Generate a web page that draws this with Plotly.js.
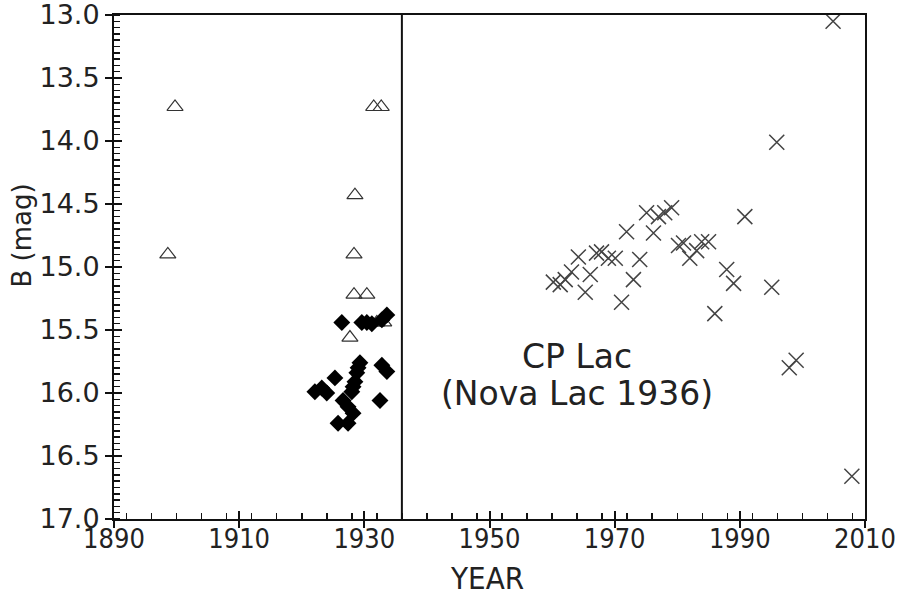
<!DOCTYPE html>
<html>
<head>
<meta charset="utf-8">
<script src="https://cdn.plot.ly/plotly-3.0.1.min.js"></script>
<style>html,body{margin:0;padding:0;background:#fff}#chart{width:899px;height:599px}</style>
</head>
<body>
<div id="chart"></div>
<script>
// Open triangles (early photographic plates)
const triYear = [1899.75, 1898.6, 1931.5, 1932.7, 1928.5, 1928.35, 1928.35, 1930.4, 1927.7, 1932.0, 1933.1];
const triMag  = [13.73, 14.90, 13.73, 13.73, 14.43, 14.90, 15.22, 15.22, 15.56, 15.44, 15.44];

// Filled diamonds (pre-nova)
const diaYear = [1926.4, 1929.6, 1930.4, 1931.2, 1932.8, 1933.6, 1929.3, 1932.8, 1933.6, 1925.3,
                 1928.8, 1928.5, 1928.2, 1928.0, 1922.1, 1923.2, 1924.0, 1926.6, 1927.4, 1928.2,
                 1932.5, 1925.8, 1927.4, 1929.0];
const diaMag  = [15.44, 15.44, 15.44, 15.45, 15.42, 15.38, 15.76, 15.78, 15.83, 15.88,
                 15.84, 15.91, 15.95, 15.99, 15.99, 15.96, 16.00, 16.06, 16.11, 16.16,
                 16.06, 16.24, 16.24, 15.80];

// Crosses (post-nova)
const crsYear = [1960.2, 1961.3, 1962.1, 1963.1, 1964.2, 1965.3, 1966.1, 1967.1, 1967.9, 1969.0,
                 1970.1, 1971.1, 1971.9, 1973.0, 1974.0, 1975.1, 1976.2, 1977.0, 1978.0, 1979.1,
                 1980.2, 1981.0, 1982.0, 1983.1, 1983.9, 1985.0, 1986.0, 1987.9, 1989.0, 1990.8,
                 1995.1, 1995.9, 1997.9, 1999.0, 2004.9, 2007.9];
const crsMag  = [15.12, 15.14, 15.10, 15.04, 14.92, 15.20, 15.06, 14.89, 14.88, 14.93,
                 14.93, 15.28, 14.72, 15.10, 14.94, 14.57, 14.73, 14.60, 14.57, 14.53,
                 14.83, 14.81, 14.93, 14.87, 14.80, 14.80, 15.37, 15.02, 15.13, 14.60,
                 15.16, 14.01, 15.80, 15.74, 13.05, 16.66];

const novaYear = 1936;
const xRange = [1890, 2010];
const yRange = [17, 13];
const labelLines = ["CP Lac", "(Nova Lac 1936)"];
const xTitle = "YEAR";
const yTitle = "B (mag)";

const traces = [
  {x: triYear, y: triMag, type: 'scatter', mode: 'markers',
   marker: {symbol: 'triangle-up-open', size: 14, color: '#333', line: {width: 1.2, color: '#333'}}},
  {x: diaYear, y: diaMag, type: 'scatter', mode: 'markers',
   marker: {symbol: 'diamond', size: 13, color: '#000'}},
  {x: crsYear, y: crsMag, type: 'scatter', mode: 'markers',
   marker: {symbol: 'x-thin-open', size: 15, color: '#444', line: {width: 1.5, color: '#444'}}},
  {x: [], y: [], xaxis: 'x2', yaxis: 'y2', type: 'scatter', mode: 'markers', showlegend: false}
];

const sans = 'DejaVu Sans, Verdana, sans-serif';
const cond = 'DejaVu Sans Condensed, DejaVu Sans, sans-serif';

const layout = {
  width: 899, height: 599,
  margin: {l: 114, r: 34, t: 15, b: 80},
  paper_bgcolor: '#fff', plot_bgcolor: '#fff',
  showlegend: false,
  font: {family: sans, color: '#222'},
  xaxis: {
    range: xRange, dtick: 20, tick0: 1890,
    showgrid: false, zeroline: false,
    showline: true, linecolor: '#111', linewidth: 2, mirror: true,
    ticks: 'outside', ticklen: 7, tickwidth: 2, tickcolor: '#111',
    ticklabelstandoff: -12, ticklabeloverflow: 'allow',
    minor: {dtick: 4, ticks: 'inside', ticklen: 6, tickwidth: 1.5, tickcolor: '#111', showgrid: false},
    tickfont: {family: cond, size: 27, color: '#222'}
  },
  yaxis: {
    range: yRange, dtick: 0.5, tick0: 13, tickformat: '.1f',
    showgrid: false, zeroline: false,
    showline: true, linecolor: '#111', linewidth: 2, mirror: true,
    ticks: 'outside', ticklen: 7, tickwidth: 2, tickcolor: '#111',
    ticklabeloverflow: 'allow',
    minor: {dtick: 0.05, ticks: 'inside', ticklen: 6, tickwidth: 1.5, tickcolor: '#111', showgrid: false},
    tickfont: {family: sans, size: 27, color: '#222'}
  },
  xaxis2: {
    overlaying: 'x', matches: 'x', range: xRange, dtick: 20, tick0: 1890,
    showgrid: false, zeroline: false, showline: false, showticklabels: false,
    ticks: 'inside', ticklen: 8, tickwidth: 2, tickcolor: '#111', side: 'bottom', anchor: 'y2'
  },
  yaxis2: {
    overlaying: 'y', range: yRange, dtick: 0.5, tick0: 13,
    showgrid: false, zeroline: false, showline: false, showticklabels: false,
    ticks: 'inside', ticklen: 8, tickwidth: 2, tickcolor: '#111', side: 'left', anchor: 'x2'
  },
  shapes: [
    {type: 'line', xref: 'x', yref: 'paper', x0: novaYear, x1: novaYear, y0: 0, y1: 1,
     line: {color: '#111', width: 2}}
  ],
  annotations: [
    {xref: 'x', yref: 'y', x: 1964.0, y: 15.71, text: labelLines[0], showarrow: false,
     font: {family: sans, size: 33, color: '#222'}},
    {xref: 'x', yref: 'y', x: 1964.0, y: 16.0, text: labelLines[1], showarrow: false,
     font: {family: sans, size: 33, color: '#222'}},
    {xref: 'paper', yref: 'y', x: -110/751, xanchor: 'left', y: 14.75, text: yTitle, textangle: -90,
     showarrow: false, font: {family: sans, size: 26, color: '#222'}},
    {xref: 'paper', yref: 'paper', x: 0.4967, y: -59/504, yanchor: 'middle', text: xTitle,
     showarrow: false, font: {family: cond, size: 31, color: '#222'}}
  ]
};

Plotly.newPlot('chart', traces, layout, {displayModeBar: false, staticPlot: true});
</script>
</body>
</html>
